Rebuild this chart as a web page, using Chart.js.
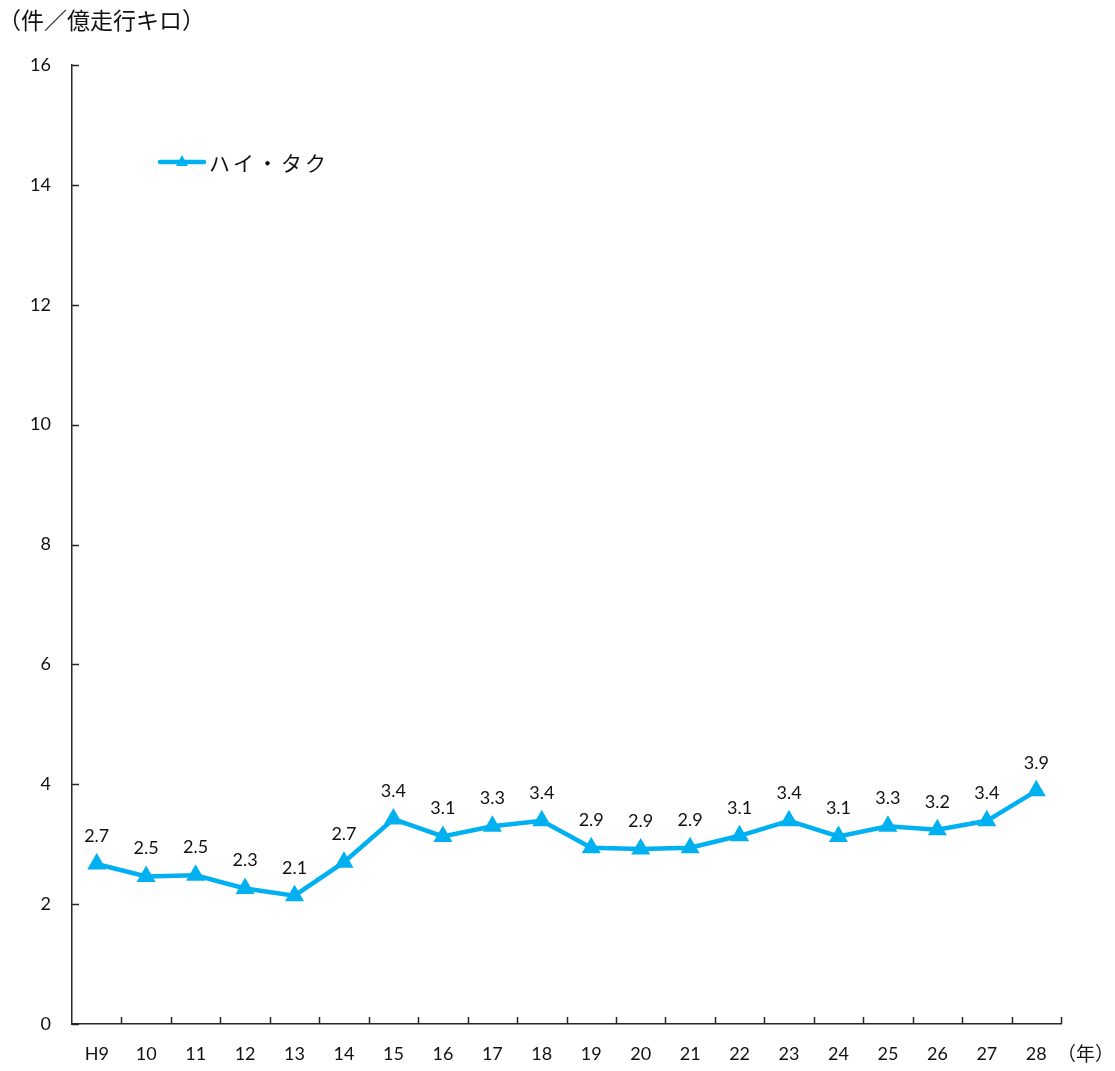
<!DOCTYPE html>
<html lang="ja">
<head>
<meta charset="utf-8">
<script src="https://cdn.jsdelivr.net/npm/chart.js@4/dist/chart.umd.min.js"></script>
<style>
  html, body { margin: 0; padding: 0; background: #fff; }
  #wrap { position: relative; width: 1115px; height: 1071px; }
</style>
</head>
<body>
<div id="wrap"><canvas id="chart"></canvas></div>
<script>
// categories (年)
const years = ['H9', '10', '11', '12', '13', '14', '15', '16', '17', '18',
               '19', '20', '21', '22', '23', '24', '25', '26', '27', '28'];
// 件／億走行キロ
const haiTaku = [2.67, 2.46, 2.48, 2.26, 2.14, 2.70, 3.42, 3.13, 3.30, 3.39,
                 2.94, 2.92, 2.94, 3.14, 3.39, 3.13, 3.30, 3.24, 3.39, 3.89];
const yTicks = [0, 2, 4, 6, 8, 10, 12, 14, 16];

const LINE_COLOR = '#00B0F0';
const AXIS_COLOR = '#262626';
const NUM_FONT = 'Lato, "Noto Sans CJK JP", sans-serif';
const JP_FONT = '"Noto Sans CJK JP", sans-serif';

// inside tick marks on both axes
const tickMarks = {
    id: 'tickMarks',
    afterDraw(chart) {
        const { ctx, chartArea: a, scales } = chart;
        ctx.save();
        ctx.strokeStyle = AXIS_COLOR;
        ctx.lineWidth = 1.5;
        ctx.beginPath();
        scales.y.ticks.forEach((t, i) => {
            const y = Math.round(scales.y.getPixelForTick(i)) + 0.5;
            ctx.moveTo(a.left, y);
            ctx.lineTo(a.left + 7, y);
        });
        const n = years.length;
        const step = scales.x.getPixelForValue(1) - scales.x.getPixelForValue(0);
        for (let i = 1; i <= n; i++) {
            const x = Math.round(scales.x.getPixelForValue(i - 1) + step / 2) + 0.5;
            ctx.moveTo(x, a.bottom);
            ctx.lineTo(x, a.bottom - 7);
        }
        ctx.stroke();
        ctx.restore();
    }
};

// value labels above each point
const valueLabels = {
    id: 'valueLabels',
    afterDatasetsDraw(chart) {
        const { ctx } = chart;
        const meta = chart.getDatasetMeta(0);
        ctx.save();
        ctx.fillStyle = '#111';
        ctx.font = '18px ' + NUM_FONT;
        ctx.textAlign = 'center';
        ctx.textBaseline = 'middle';
        meta.data.forEach((pt, i) => {
            ctx.fillText(haiTaku[i].toFixed(1), pt.x, pt.y - 28);
        });
        ctx.restore();
    }
};

// titles and the legend inside the plot
const extras = {
    id: 'extras',
    afterDraw(chart) {
        const { ctx, chartArea: a } = chart;
        ctx.save();
        ctx.fillStyle = '#111';
        ctx.textBaseline = 'middle';
        ctx.font = '23px ' + JP_FONT;
        ctx.textAlign = 'left';
        ctx.fillText('（件／億走行キロ）', -2, 20);
        ctx.font = '19px ' + JP_FONT;
        ctx.fillText('（年）', a.right - 4, 1054);

        // legend
        const ly = 162;
        ctx.strokeStyle = LINE_COLOR;
        ctx.lineWidth = 4.5;
        ctx.lineCap = 'round';
        ctx.beginPath();
        ctx.moveTo(160, ly);
        ctx.lineTo(204, ly);
        ctx.stroke();
        ctx.fillStyle = LINE_COLOR;
        ctx.beginPath();
        ctx.moveTo(182, ly - 7);
        ctx.lineTo(188, ly + 4);
        ctx.lineTo(176, ly + 4);
        ctx.closePath();
        ctx.fill();
        ctx.fillStyle = '#111';
        ctx.font = '21px ' + JP_FONT;
        ctx.letterSpacing = '3px';
        ctx.fillText('ハイ・タク', 209, ly + 1);
        ctx.restore();
    }
};

new Chart(document.getElementById('chart'), {
    type: 'line',
    data: {
        labels: years,
        datasets: [{
            label: 'ハイ・タク',
            data: haiTaku,
            borderColor: LINE_COLOR,
            backgroundColor: LINE_COLOR,
            borderWidth: 4.5,
            pointStyle: 'triangle',
            pointRadius: 6.5,
            pointHoverRadius: 6.5,
            tension: 0,
            fill: false
        }]
    },
    options: {
        responsive: true,
        maintainAspectRatio: false,
        animation: false,
        layout: { padding: { top: 65, right: 54, left: 0, bottom: 0 } },
        plugins: {
            legend: { display: false },
            tooltip: { enabled: false }
        },
        scales: {
            x: {
                offset: true,
                grid: { display: false, drawTicks: false },
                border: { color: AXIS_COLOR, width: 1.5 },
                ticks: {
                    color: '#111',
                    font: { size: 18, family: NUM_FONT },
                    padding: 19,
                    maxRotation: 0,
                    autoSkip: false
                },
                afterFit: s => { s.height = 47; }
            },
            y: {
                min: 0,
                max: 16,
                afterBuildTicks: s => { s.ticks = yTicks.map(v => ({ value: v })); },
                grid: { display: false, drawTicks: false },
                border: { color: AXIS_COLOR, width: 1.5 },
                ticks: {
                    color: '#111',
                    font: { size: 18, family: NUM_FONT },
                    padding: 21
                },
                afterFit: s => { s.width = 72; }
            }
        }
    },
    plugins: [tickMarks, valueLabels, extras]
});
</script>
</body>
</html>
